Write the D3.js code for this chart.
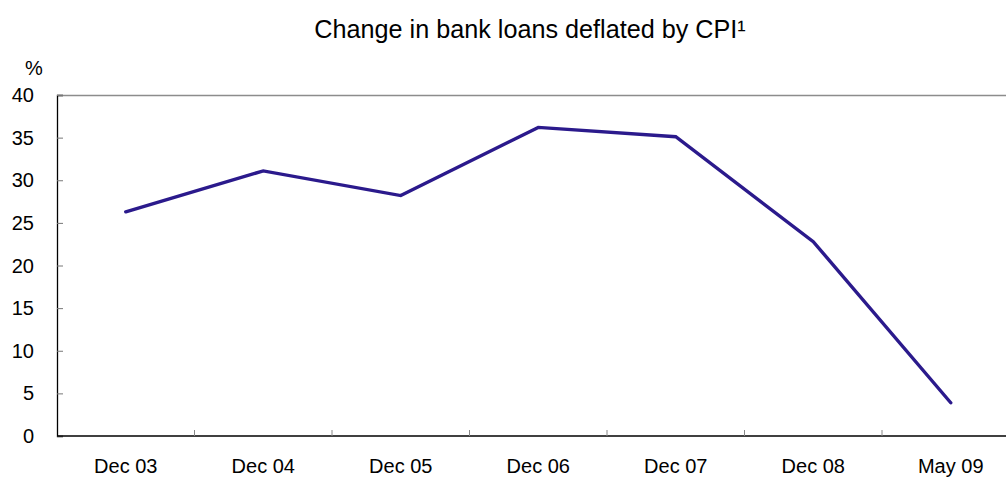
<!DOCTYPE html>
<html>
<head>
<meta charset="utf-8">
<script src="https://cdn.jsdelivr.net/npm/d3@7"></script>
<style>
  html, body { margin: 0; padding: 0; background: #fff; }
  svg { display: block; font-family: "Liberation Sans", Arial, sans-serif; }
</style>
</head>
<body>
<svg id="chart" width="1006" height="477"></svg>
<script>
// Real growth of bank lending, per cent
const categories = ["Dec 03", "Dec 04", "Dec 05", "Dec 06", "Dec 07", "Dec 08", "May 09"];
const loanGrowth = [26.3, 31.1, 28.2, 36.2, 35.1, 22.8, 3.9];
const yTicks = [0, 5, 10, 15, 20, 25, 30, 35, 40];
const titleText = "Change in bank loans deflated by CPI\u00b9";
const unitText = "%";

const svg = d3.select("#chart");
const plot = { left: 57, top: 95, bottom: 436, bandWidth: 137.5 };
plot.right = plot.left + plot.bandWidth * categories.length;

const x = d3.scaleBand().domain(categories).range([plot.left, plot.right]).paddingInner(0).paddingOuter(0);
const y = d3.scaleLinear().domain([0, 40]).range([plot.bottom, plot.top]);

// title
svg.append("text")
  .attr("x", 530).attr("y", 38)
  .attr("text-anchor", "middle")
  .attr("font-size", 25.2)
  .attr("fill", "#000")
  .text(titleText);

// unit label
svg.append("text")
  .attr("x", 25).attr("y", 75)
  .attr("font-size", 20)
  .attr("fill", "#000")
  .text(unitText);

// top frame line
svg.append("line")
  .attr("x1", plot.left).attr("x2", 1006)
  .attr("y1", plot.top + 0.5).attr("y2", plot.top + 0.5)
  .attr("stroke", "#8c8c8c").attr("stroke-width", 1.5);

// y axis
const yAxis = svg.append("g")
  .attr("transform", `translate(${plot.left},0)`)
  .call(d3.axisRight(y).tickValues(yTicks).tickSize(6).tickFormat(""));
yAxis.select(".domain").attr("stroke", "#000").attr("stroke-width", 1.3);
yAxis.selectAll(".tick line").attr("stroke", "#777");

svg.append("g").selectAll("text")
  .data(yTicks).join("text")
  .attr("x", 34)
  .attr("y", d => y(d) + 7)
  .attr("text-anchor", "end")
  .attr("font-size", 20)
  .attr("fill", "#000")
  .text(d => d);

// x axis with boundary ticks between categories
const boundaries = categories.slice(1).map(c => x(c));
const xAxisG = svg.append("g");
xAxisG.append("line")
  .attr("x1", plot.left).attr("x2", 1006)
  .attr("y1", plot.bottom).attr("y2", plot.bottom)
  .attr("stroke", "#000").attr("stroke-width", 1.5);
xAxisG.selectAll("line.tick")
  .data(boundaries).join("line")
  .attr("class", "tick")
  .attr("x1", d => d).attr("x2", d => d)
  .attr("y1", plot.bottom).attr("y2", plot.bottom - 6)
  .attr("stroke", "#888").attr("stroke-width", 1);
xAxisG.selectAll("text")
  .data(categories).join("text")
  .attr("x", d => x(d) + x.bandwidth() / 2)
  .attr("y", 473)
  .attr("text-anchor", "middle")
  .attr("font-size", 20)
  .attr("fill", "#000")
  .text(d => d);

// series line
const line = d3.line()
  .x((d, i) => x(categories[i]) + x.bandwidth() / 2)
  .y(d => y(d));
svg.append("path")
  .datum(loanGrowth)
  .attr("d", line)
  .attr("fill", "none")
  .attr("stroke", "#2b1a8c")
  .attr("stroke-width", 3.4)
  .attr("stroke-linejoin", "miter")
  .attr("stroke-linecap", "round");
</script>
</body>
</html>
